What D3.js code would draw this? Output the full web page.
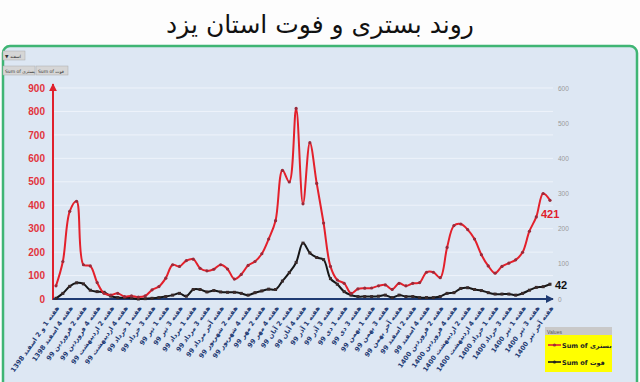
<!DOCTYPE html>
<html><head><meta charset="utf-8">
<script src="https://cdn.jsdelivr.net/npm/d3@7"></script>
<style>body{margin:0;background:#fff;} svg{display:block}</style>
</head><body><svg id="c" width="640" height="382"></svg>
<script>
// ---- data ----
const title = "روند بستری و فوت استان یزد";
const xLabels = [
"هفته 1 و 2 اسفند 1398","هفته 4 اسفند 1398","هفته 2 فروردین 99","هفته 4 فروردین 99",
"هفته 2 اردیبهشت 99","هفته 4 اردیبهشت 99","هفته 1 خرداد 99","هفته 3 خرداد 99",
"هفته 1 تیر 99","هفته 3 تیر 99","هفته 1 مرداد 99","هفته 3 مرداد 99",
"هفته آخر مرداد 99","هفته 2 شهریور 99","هفته 4 شهریور 99","هفته 2 مهر 99",
"هفته 4 مهر 99","هفته 2 آبان 99","هفته 4 آبان 99","هفته 1 آذر 99",
"هفته 3 آذر 99","هفته 1 دی 99","هفته 3 دی 99","هفته 1 بهمن 99",
"هفته 3 بهمن 99","هفته آخر بهمن 99","هفته 2 اسفند 99","هفته 4 اسفند 99",
"هفته 2 فروردین 1400","هفته 4 فروردین 1400","هفته 2 اردیبهشت 1400","هفته 4 اردیبهشت 1400",
"هفته 1 خرداد 1400","هفته 3 خرداد 1400","هفته 1 تیر 1400","هفته 3 تیر 1400",
"هفته آخر تیر 1400"];
const hospitalized = [56,160,374,417,146,141,70,24,17,24,10,13,8,13,39,53,89,146,139,164,
170,131,120,127,146,128,85,105,143,160,193,256,334,549,499,813,406,667,493,324,
139,81,67,24,43,46,47,56,60,41,67,56,67,70,114,114,91,220,313,320,
296,256,189,141,110,139,153,167,199,289,350,450,421];
const deaths = [2,16,36,46,43,25,21,19,8,4,4,3,0,1,2,4,7,11,16,8,
27,27,20,24,20,19,19,16,11,18,23,28,27,51,75,104,159,131,118,112,
58,42,21,11,7,7,7,8,11,4,11,7,7,4,4,4,7,16,18,30,
32,27,24,18,14,14,14,11,16,25,33,35,42];
const leftTicks = [0,100,200,300,400,500,600,700,800,900];
const rightTicks = [0,100,200,300,400,500,600];
const seriesNames = ["Sum of بستری","Sum of فوت"];

// ---- drawing ----
const svg = d3.select('#c');
const defs = svg.append('defs');
function arrow(id, color){
  defs.append('marker').attr('id',id).attr('viewBox','0 0 10 10').attr('refX',9).attr('refY',5)
    .attr('markerWidth',4).attr('markerHeight',4).attr('orient','auto')
    .append('path').attr('d','M0,0L10,5L0,10z').attr('fill',color);
}
arrow('ar','#e0202c'); arrow('ab','#1f3b73');

svg.append('rect').attr('width',640).attr('height',382).attr('fill','#fdfdfd');
svg.append('text').attr('x',320).attr('y',33).attr('text-anchor','middle')
  .attr('font-family','DejaVu Sans, sans-serif').attr('font-size',25).attr('fill','#111').text(title);
svg.append('rect').attr('x',3).attr('y',46).attr('width',634).attr('height',360).attr('rx',7)
  .attr('fill','#dde7f3').attr('stroke','#3fb574').attr('stroke-width',2.5);

const x = d3.scaleLinear().domain([0, hospitalized.length-1]).range([56,550]);
const yL = d3.scaleLinear().domain([0,900]).range([299,88]);
const yR = d3.scaleLinear().domain([0,600]).range([299,88]);

// gridlines
svg.append('g').selectAll('line').data(leftTicks.slice(1)).join('line')
  .attr('x1',53).attr('x2',553).attr('y1',d=>yL(d)).attr('y2',d=>yL(d))
  .attr('stroke','#eef3fa').attr('stroke-width',1);

// left axis
const gl = svg.append('g').attr('transform','translate(53,0)')
  .call(d3.axisLeft(yL).tickValues(leftTicks).tickSize(0).tickPadding(8));
gl.select('.domain').remove();
gl.selectAll('text').attr('fill','#e2343c').attr('font-family','Liberation Sans, Arial, sans-serif')
  .attr('font-weight','bold').attr('font-size',10);
svg.append('line').attr('x1',53).attr('x2',53).attr('y1',300).attr('y2',84)
  .attr('stroke','#e0202c').attr('stroke-width',2).attr('marker-end','url(#ar)');

// right axis
const gr = svg.append('g').attr('transform','translate(556,0)')
  .call(d3.axisRight(yR).tickValues(rightTicks).tickSize(0).tickPadding(2));
gr.select('.domain').remove();
gr.selectAll('text').attr('fill','#9a9a9a').attr('font-family','Liberation Sans, Arial, sans-serif')
  .attr('font-size',6.5);

// x axis
const gx = svg.append('g').attr('transform','translate(0,299)')
  .call(d3.axisBottom(x).tickValues(d3.range(0,hospitalized.length,2)).tickFormat((d,i)=>xLabels[i]).tickSize(0));
gx.select('.domain').remove();
gx.selectAll('text').attr('fill','#1f3b73').attr('font-family','DejaVu Sans, sans-serif')
  .attr('font-weight','bold').attr('font-size',6.6).attr('text-anchor','end')
  .attr('dy',null).attr('y',null)
  .attr('transform','translate(3,9) rotate(-55)');
svg.append('line').attr('x1',53).attr('x2',553).attr('y1',299).attr('y2',299)
  .attr('stroke','#1f3b73').attr('stroke-width',2).attr('marker-end','url(#ab)');

// lines
const curve = d3.curveCatmullRom.alpha(0.5);
const lineL = d3.line().x((d,i)=>x(i)).y(d=>yL(d)).curve(curve);
const lineR = d3.line().x((d,i)=>x(i)).y(d=>yR(d)).curve(curve);
svg.append('path').datum(deaths).attr('d',lineR).attr('fill','none').attr('stroke','#161616').attr('stroke-width',2);
svg.append('g').selectAll('rect').data(deaths).join('rect')
  .attr('x',(d,i)=>x(i)-1.5).attr('y',d=>yR(d)-1.5).attr('width',3).attr('height',3).attr('fill','#3a2a2a');
svg.append('path').datum(hospitalized).attr('d',lineL).attr('fill','none').attr('stroke','#e3202b').attr('stroke-width',2);
svg.append('g').selectAll('circle').data(hospitalized).join('circle')
  .attr('cx',(d,i)=>x(i)).attr('cy',d=>yL(d)).attr('r',1.6).attr('fill','#9a2a3a');

// data labels
const last = hospitalized.length-1;
svg.append('text').attr('x',x(last)-9).attr('y',yL(hospitalized[last])+18)
  .attr('font-family','Liberation Sans, Arial, sans-serif').attr('font-weight','bold').attr('font-size',11)
  .attr('fill','#e0202c').text(hospitalized[last]);
svg.append('text').attr('x',x(last)+5).attr('y',yR(deaths[last])+5)
  .attr('font-family','Liberation Sans, Arial, sans-serif').attr('font-weight','bold').attr('font-size',11)
  .attr('fill','#111').text(deaths[last]);

// legend
const lg = svg.append('g');
lg.append('rect').attr('x',545).attr('y',327).attr('width',67).attr('height',45).attr('fill','#ffff00');
lg.append('rect').attr('x',545).attr('y',327).attr('width',67).attr('height',8).attr('fill','#c9c9c9');
lg.append('text').attr('x',547).attr('y',333.5).attr('font-size',5).attr('fill','#555')
  .attr('font-family','Liberation Sans, Arial, sans-serif').text('Values');
const legColors = ['#e3202b','#161616'];
seriesNames.forEach((s,k)=>{
  const yy = 345 + k*17;
  lg.append('line').attr('x1',548).attr('x2',561).attr('y1',yy).attr('y2',yy).attr('stroke',legColors[k]).attr('stroke-width',1.6);
  lg.append('circle').attr('cx',554.5).attr('cy',yy).attr('r',1.6).attr('fill',k?'#222':'#9a2a3a');
  lg.append('text').attr('x',562).attr('y',yy+2.5).attr('font-size',6.5).attr('font-weight','bold')
    .attr('font-family','DejaVu Sans, sans-serif').attr('fill','#222').text(s);
});

// pivot field buttons
const pb = svg.append('g').attr('font-family','DejaVu Sans, sans-serif').attr('font-size',4.5).attr('fill','#333');
pb.append('rect').attr('x',3).attr('y',51).attr('width',22).attr('height',9).attr('fill','#d6d6d6').attr('stroke','#aaa').attr('stroke-width',0.5);
pb.append('text').attr('x',5).attr('y',57.5).text('▼ اسفند');
pb.append('rect').attr('x',3).attr('y',66).attr('width',32).attr('height',9).attr('fill','#d6d6d6').attr('stroke','#aaa').attr('stroke-width',0.5);
pb.append('text').attr('x',5).attr('y',72.5).text(seriesNames[0]);
pb.append('rect').attr('x',36).attr('y',66).attr('width',32).attr('height',9).attr('fill','#d6d6d6').attr('stroke','#aaa').attr('stroke-width',0.5);
pb.append('text').attr('x',38).attr('y',72.5).text(seriesNames[1]);
</script></body></html>
